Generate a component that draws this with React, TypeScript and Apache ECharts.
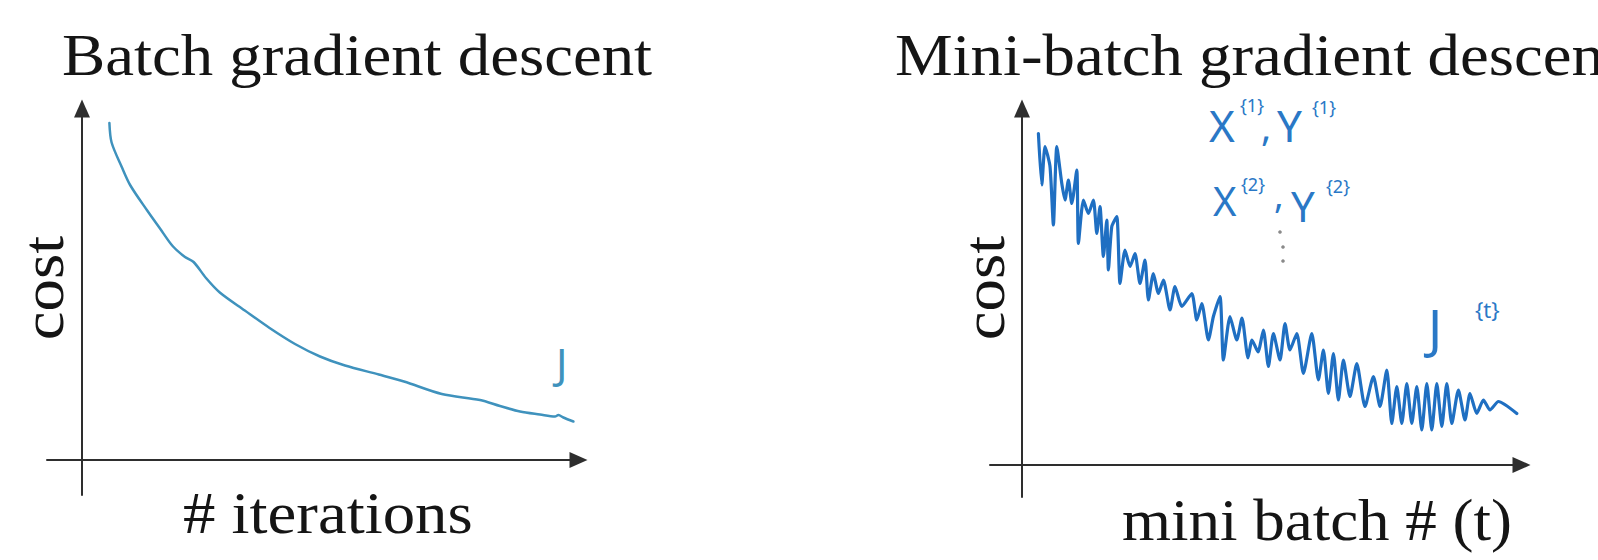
import React, { useEffect, useRef } from "react";
import * as echarts from "echarts";

// ---------- Data ----------
// Left panel: batch gradient descent, cost vs # iterations
const batchIter = [13.7, 14.8, 20, 24.2, 32.6, 39, 45.3, 51.5, 55.8, 62, 68.9, 81.4, 93.8, 106.5, 119, 131.5, 148.4, 161, 179.9, 199, 209, 219, 229, 236.5, 238.2, 240.7, 245.7];
const batchCost = [67.4, 63.5, 58.5, 54.9, 49.9, 46.3, 42.8, 40.6, 39.6, 36.4, 33.5, 29.9, 26.4, 23.2, 20.7, 18.9, 17.1, 15.7, 13.2, 12, 10.8, 9.7, 9.1, 8.7, 9.0, 8.5, 7.7];

// Right panel: mini-batch gradient descent, cost vs mini batch # (t)
const miniT = [8.2, 9.9, 11.5, 14, 15.7, 17.4, 19.9, 21.5, 23.2, 24.9, 27.4, 28.2, 30.7, 33.2, 35.7, 37.4, 39, 40.7, 42.4, 43.2, 44.9, 47.4, 49, 51.5, 54, 56.5, 59, 61.5, 63.2, 65.7, 68.2, 70.7, 74, 76.5, 79.9, 84.9, 87.4, 89.9, 93.2, 95.7, 99, 100.7, 104, 107.4, 110, 113, 115, 118, 120.7, 123.2, 125.7, 129, 131.5, 134, 137.4, 140.7, 144.9, 148.2, 150.7, 153.2, 155.7, 158.2, 160.7, 164, 167.4, 171.5, 175.7, 179, 182.4, 184.9, 187.4, 189.9, 192.4, 194.9, 197.4, 199.9, 202.4, 204.9, 207.4, 209.9, 212.4, 214.9, 218.2, 221.5, 224, 227.4, 230.7, 234, 238.2, 247.4];
const miniCost = [66.3, 56, 63.7, 59.7, 48, 63.7, 56.3, 53, 57, 52.3, 59, 44.3, 53, 50.3, 53, 46.3, 51.7, 41.7, 49, 39, 47.7, 49.7, 36.3, 43, 39.7, 42.3, 36.3, 41, 33, 38.3, 34.3, 37, 31, 35.7, 31.7, 34.3, 29, 32.3, 25, 29.7, 33.7, 21, 29.7, 25, 29.4, 21.4, 25, 22.6, 27, 19.7, 26.3, 21, 28.3, 23, 26.3, 18.3, 26.3, 17, 23, 14.3, 22.3, 13, 21, 13.7, 20.3, 11.7, 17.7, 11.7, 19, 8.3, 15.7, 8.3, 16.3, 8.3, 15.7, 7, 16.3, 7, 16.3, 7.7, 16.3, 8.3, 15, 9, 14.3, 10.3, 13, 11, 12.7, 10.3];

// Text
const titles = ["Batch gradient descent", "Mini-batch gradient descent"];
const yNames = ["cost", "cost"];
const xNames = ["# iterations", "mini batch # (t)"];

const SERIF = '"Liberation Serif", "Times New Roman", serif';
const HAND = '"Noto Sans", "DejaVu Sans", sans-serif';
const INK = "#151515";
const AXIS = "#2e2e2e";
const LEFT_BLUE = "#3f92bd";
const RIGHT_BLUE = "#1f6fc2";
const NOTE_BLUE = "#2a78c6";

function axisPair(gridIndex: number, xmin: number, xmax: number, ymin: number, ymax: number) {
  const line = {
    onZero: true,
    symbol: ["none", "triangle"],
    symbolSize: [16, 18],
    lineStyle: { color: AXIS, width: 2 },
  };
  const common = {
    gridIndex,
    type: "value",
    axisLine: line,
    axisTick: { show: false },
    axisLabel: { show: false },
    splitLine: { show: false },
  };
  return {
    x: { ...common, min: xmin, max: xmax },
    y: { ...common, min: ymin, max: ymax },
  };
}

function serifText(text: string, x: number, y: number, align: string, extra: any = {}) {
  return {
    type: "text",
    x,
    y,
    scaleX: 1.08,
    silent: true,
    ...extra,
    style: {
      text,
      font: `60px ${SERIF}`,
      fill: INK,
      align,
      textAlign: align,
      verticalAlign: "middle",
      textVerticalAlign: "middle",
    },
  };
}

function note(text: string, x: number, y: number, size: number, color = NOTE_BLUE, family = HAND) {
  return {
    type: "text",
    x,
    y,
    silent: true,
    style: {
      text,
      font: `400 ${size}px ${family}`,
      fill: color,
      align: "left",
      textAlign: "left",
      verticalAlign: "middle",
      textVerticalAlign: "middle",
    },
  };
}

function dot(cx: number, cy: number) {
  return { type: "circle", silent: true, shape: { cx, cy, r: 1.8 }, style: { fill: "#8a8a8a" } };
}

export default function App() {
  const ref = useRef<HTMLDivElement>(null);

  useEffect(() => {
    document.body.style.margin = "0";
    const chart = echarts.init(ref.current!, null, { renderer: "svg" });

    const a0 = axisPair(0, -17.5, 248.25, -7, 70.3);
    const a1 = axisPair(1, -16, 249.75, -6.4, 71.3);

    const leftData = batchIter.map((t, i) => [t, batchCost[i]]);
    const rightData = miniT.map((t, i) => [t, miniCost[i]]);

    chart.setOption({
      animation: false,
      backgroundColor: "#ffffff",
      grid: [
        { left: 47, top: 108.5, width: 531.5, height: 386.5 },
        { left: 990, top: 108.5, width: 531.5, height: 388.5 },
      ],
      xAxis: [a0.x, a1.x],
      yAxis: [a0.y, a1.y],
      series: [
        {
          type: "line",
          xAxisIndex: 0,
          yAxisIndex: 0,
          data: leftData,
          showSymbol: false,
          smooth: 0.3,
          silent: true,
          lineStyle: { color: LEFT_BLUE, width: 2.5, cap: "round", join: "round" },
        },
        {
          type: "line",
          xAxisIndex: 1,
          yAxisIndex: 1,
          data: rightData,
          showSymbol: false,
          smooth: 0.2,
          silent: true,
          lineStyle: { color: RIGHT_BLUE, width: 3.2, cap: "round", join: "round" },
        },
      ],
      graphic: [
        serifText(titles[0], 62, 55, "left"),
        serifText(titles[1], 895, 55, "left"),
        serifText(yNames[0], 43, 288, "center", { rotation: Math.PI / 2 }),
        serifText(yNames[1], 984, 288, "center", { rotation: Math.PI / 2 }),
        serifText(xNames[0], 183, 513, "left"),
        serifText(xNames[1], 1122, 520, "left", { scaleX: 1.05 }),
        // hand-written annotations
        note("J", 556, 362, 42, LEFT_BLUE),
        note("X", 1209, 125, 44),
        note("{1}", 1240, 105, 18),
        note(",", 1261, 126, 38),
        note("Y", 1277, 125, 44),
        note("{1}", 1312, 107, 18),
        note("X", 1213, 200, 40),
        note("{2}", 1241, 184, 18),
        note(",", 1274, 194, 36),
        note("Y", 1291, 205, 42),
        note("{2}", 1326, 186, 18),
        dot(1280, 232),
        dot(1283, 247),
        dot(1283, 261),
        note("J", 1428, 327, 52),
        note("{t}", 1475, 309, 22),
      ],
    });

    return () => chart.dispose();
  }, []);

  return <div ref={ref} style={{ width: 1598, height: 560 }} />;
}
